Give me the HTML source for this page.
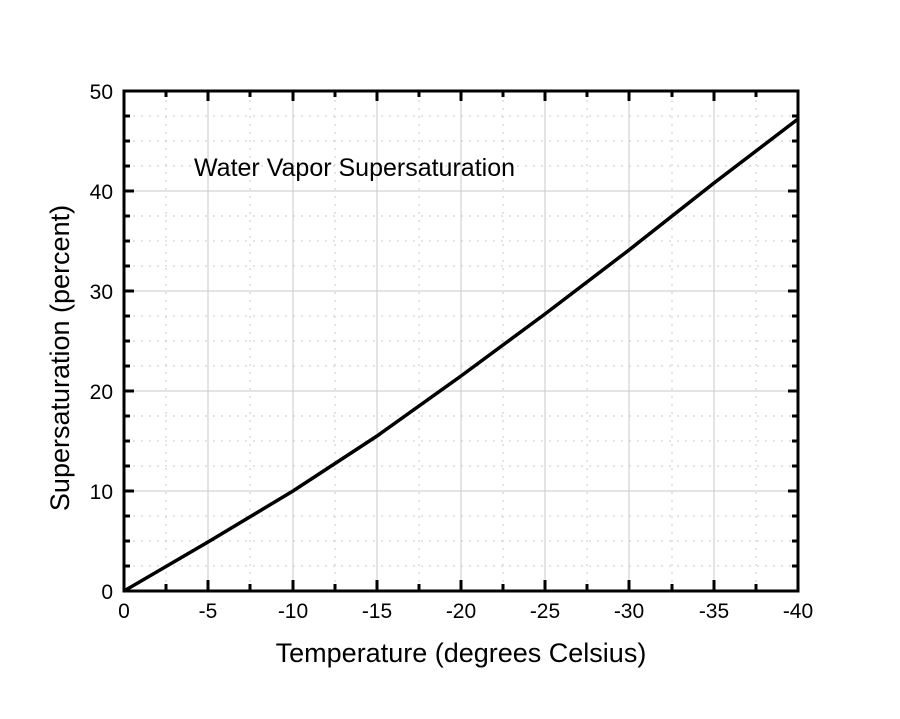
<!DOCTYPE html>
<html><head><style>body{margin:0;background:#fff}</style></head><body>
<svg width="900" height="714" xmlns="http://www.w3.org/2000/svg" font-family="Liberation Sans, sans-serif">
<rect width="900" height="714" fill="#fff"/>
<g stroke="#c8c8c8" stroke-width="1" stroke-dasharray="2,6">
<line x1="166" y1="92" x2="166" y2="590"/><line x1="250" y1="92" x2="250" y2="590"/><line x1="335" y1="92" x2="335" y2="590"/><line x1="419" y1="92" x2="419" y2="590"/><line x1="503" y1="92" x2="503" y2="590"/><line x1="587" y1="92" x2="587" y2="590"/><line x1="672" y1="92" x2="672" y2="590"/><line x1="756" y1="92" x2="756" y2="590"/>
<line x1="125" y1="116" x2="797" y2="116"/><line x1="125" y1="141" x2="797" y2="141"/><line x1="125" y1="166" x2="797" y2="166"/>
<line x1="125" y1="216" x2="797" y2="216"/><line x1="125" y1="241" x2="797" y2="241"/><line x1="125" y1="266" x2="797" y2="266"/>
<line x1="125" y1="316" x2="797" y2="316"/><line x1="125" y1="341" x2="797" y2="341"/><line x1="125" y1="366" x2="797" y2="366"/>
<line x1="125" y1="416" x2="797" y2="416"/><line x1="125" y1="441" x2="797" y2="441"/><line x1="125" y1="466" x2="797" y2="466"/>
<line x1="125" y1="516" x2="797" y2="516"/><line x1="125" y1="541" x2="797" y2="541"/><line x1="125" y1="566" x2="797" y2="566"/>
</g>
<g stroke="#c8c8c8" stroke-width="1">
<line x1="208" y1="92" x2="208" y2="590"/><line x1="293" y1="92" x2="293" y2="590"/><line x1="377" y1="92" x2="377" y2="590"/><line x1="461" y1="92" x2="461" y2="590"/><line x1="545" y1="92" x2="545" y2="590"/><line x1="629" y1="92" x2="629" y2="590"/><line x1="714" y1="92" x2="714" y2="590"/>
<line x1="125" y1="191" x2="797" y2="191"/><line x1="125" y1="291" x2="797" y2="291"/><line x1="125" y1="391" x2="797" y2="391"/><line x1="125" y1="491" x2="797" y2="491"/>
</g>
<g stroke="#000" stroke-width="3">
<path d="M166 590v-6M250 590v-6M335 590v-6M419 590v-6M503 590v-6M587 590v-6M672 590v-6M756 590v-6M208 590v-10M293 590v-10M377 590v-10M461 590v-10M545 590v-10M629 590v-10M714 590v-10"/>
<path d="M166 91v6M250 91v6M335 91v6M419 91v6M503 91v6M587 91v6M672 91v6M756 91v6M208 91v10M293 91v10M377 91v10M461 91v10M545 91v10M629 91v10M714 91v10"/>
<path d="M124 116h6M124 141h6M124 166h6M124 216h6M124 241h6M124 266h6M124 316h6M124 341h6M124 366h6M124 416h6M124 441h6M124 466h6M124 516h6M124 541h6M124 566h6M124 191h10M124 291h10M124 391h10M124 491h10"/>
<path d="M798 116h-6M798 141h-6M798 166h-6M798 216h-6M798 241h-6M798 266h-6M798 316h-6M798 341h-6M798 366h-6M798 416h-6M798 441h-6M798 466h-6M798 516h-6M798 541h-6M798 566h-6M798 191h-10M798 291h-10M798 391h-10M798 491h-10"/>
<rect x="124" y="91" width="674" height="500" fill="none"/>
</g>
<polyline fill="none" stroke="#000" stroke-width="3.5" points="124,591 208,542 293,491 377,436 461,376 545,314 629,250 714,183 798,119"/>
<g font-size="21" text-anchor="end">
<text x="113" y="99">50</text><text x="113" y="199">40</text><text x="113" y="299">30</text><text x="113" y="399">20</text><text x="113" y="499">10</text><text x="113" y="599">0</text>
</g>
<g font-size="21" text-anchor="middle">
<text x="124" y="618">0</text><text x="208" y="618">-5</text><text x="293" y="618">-10</text><text x="377" y="618">-15</text><text x="461" y="618">-20</text><text x="545" y="618">-25</text><text x="629" y="618">-30</text><text x="714" y="618">-35</text><text x="798" y="618">-40</text>
</g>
<text x="461" y="662" font-size="27" text-anchor="middle">Temperature (degrees Celsius)</text>
<text transform="translate(69,358) rotate(-90)" font-size="27" text-anchor="middle">Supersaturation (percent)</text>
<text x="194" y="176" font-size="25">Water Vapor Supersaturation</text>
</svg>
</body></html>
